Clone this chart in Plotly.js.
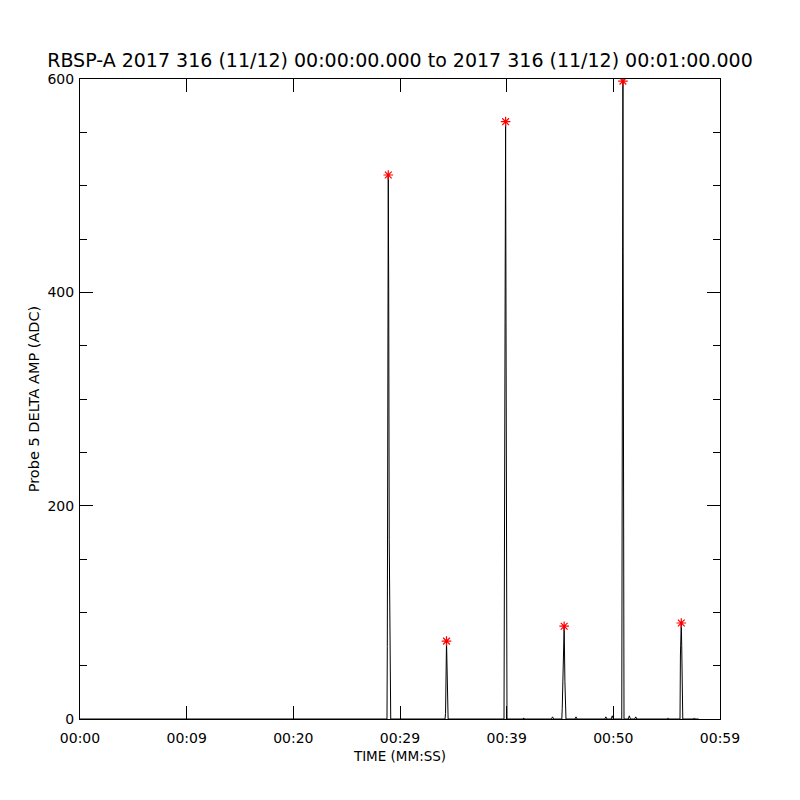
<!DOCTYPE html>
<html>
<head>
<meta charset="utf-8">
<script src="https://cdn.plot.ly/plotly-3.0.1.min.js"></script>
<style>html,body{margin:0;padding:0;background:#fff;}#chart{width:800px;height:800px;}</style>
</head>
<body>
<div id="chart"></div>
<script>
// Time in seconds after 00:00:00.000
var timeSec = [0.0, 28.78, 28.81, 28.90, 28.94, 28.99, 29.13,
  34.22, 34.27, 34.36, 34.43, 34.51,
  39.75, 39.80, 39.90, 39.94, 39.97, 40.03,
  41.55, 41.60, 41.65,
  44.20, 44.30, 44.40,
  45.17, 45.21, 45.39, 45.42, 45.46, 45.56,
  46.40, 46.50, 46.60,
  49.20, 49.30, 49.40, 49.80, 49.90, 50.00,
  50.79, 50.83, 50.90, 50.92, 51.00,
  51.40, 51.50, 51.60, 52.00, 52.10, 52.20,
  55.00, 55.10, 55.20,
  56.25, 56.29, 56.37, 56.41, 56.51,
  57.50, 57.60, 57.70, 58.00];
var ampADC = [0, 0, 68, 510, 404, 168, 0,
  0, 5, 73, 34, 0,
  0, 133, 560, 372, 176, 0,
  0, 1, 0,
  0, 2, 0,
  0, 10, 87, 54, 35, 0,
  0, 2, 0,
  0, 2, 0, 0, 3, 0,
  0, 420, 598, 437, 0,
  0, 3, 0, 0, 2, 0,
  0, 1, 0,
  0, 60, 90, 69, 0,
  0, 1, 0, 0];
// Peak markers
var peakTime = [28.90, 34.36, 39.90, 45.39, 50.90, 56.37];
var peakAmp = [510, 73, 560, 87, 598, 90];
// Axis ticks
var xTickVals = [0, 10, 20, 30, 40, 50, 60];
var xTickText = ['00:00', '00:09', '00:20', '00:29', '00:39', '00:50', '00:59'];
var yTickVals = [0, 200, 400, 600];

var font = 'DejaVu Sans, sans-serif';
var traces = [
  {x: timeSec, y: ampADC, type: 'scatter', mode: 'lines',
   line: {color: '#000000', width: 1}, hoverinfo: 'x+y'},
  {x: peakTime, y: peakAmp, type: 'scatter', mode: 'markers',
   marker: {symbol: 'asterisk-open', size: 8, color: '#ff0000', line: {color: '#ff0000', width: 1.2}}}
];
var layout = {
  width: 800, height: 800,
  paper_bgcolor: '#ffffff', plot_bgcolor: '#ffffff',
  showlegend: false,
  margin: {l: 80, r: 80, t: 79, b: 81, pad: 0},
  font: {family: font, color: '#000000', size: 14},
  title: {text: 'RBSP-A 2017 316 (11/12) 00:00:00.000 to 2017 316 (11/12) 00:01:00.000',
    font: {family: font, size: 19, color: '#000000'},
    x: 0.5, xanchor: 'center', y: 1 - 60/800, yanchor: 'middle', yref: 'container'},
  xaxis: {range: [0, 60], tickmode: 'array', tickvals: xTickVals, ticktext: xTickText,
    ticks: 'inside', ticklen: 13, tickwidth: 1, tickcolor: '#000',
    showline: true, linecolor: '#000', linewidth: 1, mirror: 'ticks',
    showgrid: false, zeroline: false, ticklabelstandoff: 6,
    tickfont: {family: font, size: 14, color: '#000'},
    title: {text: 'TIME (MM:SS)', font: {family: font, size: 13.5, color: '#000'}, standoff: 6}},
  yaxis: {range: [0, 600], tickmode: 'array', tickvals: yTickVals,
    ticks: 'inside', ticklen: 13, tickwidth: 1, tickcolor: '#000',
    minor: {dtick: 50, ticks: 'inside', ticklen: 7, tickcolor: '#000', tickwidth: 1, showgrid: false},
    showline: true, linecolor: '#000', linewidth: 1, mirror: 'ticks',
    showgrid: false, zeroline: false, ticklabelstandoff: 2,
    tickfont: {family: font, size: 14, color: '#000'},
    title: {text: 'Probe 5 DELTA AMP (ADC)', font: {family: font, size: 14.5, color: '#000'}, standoff: 4}}
};
Plotly.newPlot('chart', traces, layout, {displayModeBar: false, staticPlot: true});
</script>
</body>
</html>
